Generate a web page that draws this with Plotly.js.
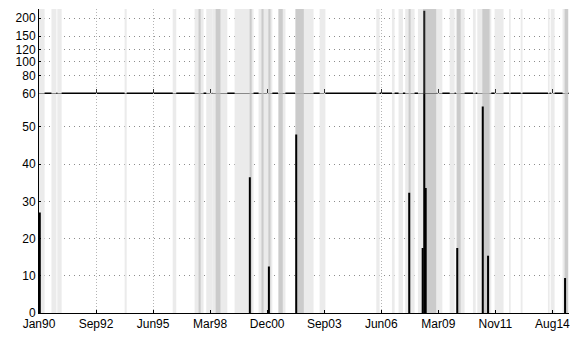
<!DOCTYPE html>
<html><head><meta charset="utf-8">
<script src="https://cdn.plot.ly/plotly-3.0.1.min.js"></script>
<style>html,body{margin:0;padding:0;background:#fff}#chart{width:574px;height:338px}</style>
</head><body><div id="chart"></div>
<script>
// Event spikes (date, value)
const eventDates = ['1990-01-15','2000-02-14','2001-01-13','2002-05-07','2007-10-09','2008-06-01','2008-06-29','2008-07-24','2010-01-28','2011-04-20','2011-07-22','2015-04-02'];
const eventValues = [27, 36.5, 12.5, 48, 32.3, 17.5, 225, 33.6, 17.5, 55.5, 15.4, 9.4];

// Shaded periods, decimal years [start, end]
const lightBands = [[1990.0,1990.27],[1990.60,1990.84],[1990.88,1991.09],[1994.11,1994.21],[1996.42,1996.59],[1997.47,1997.90],[1998.03,1998.32],[1998.32,1999.04],[1999.39,2000.30],[2000.54,2001.20],[2001.47,2001.83],[2002.29,2003.18],[2003.47,2003.75],[2006.19,2006.35],[2006.94,2007.07],[2007.26,2007.47],[2007.58,2008.03],[2008.19,2008.43],[2009.07,2009.36],[2009.71,2009.95],[2010.00,2010.43],[2010.83,2010.96],[2011.04,2011.71],[2011.87,2012.30],[2012.56,2012.64],[2013.12,2013.21],[2014.43,2014.51],[2014.56,2014.75],[2015.13,2015.42]];
const darkBands = [[1997.66,1997.76],[1998.48,1998.71],[2000.11,2000.21],[2000.68,2000.78],[2001.01,2001.11],[2001.50,2001.70],[2002.32,2002.71],[2007.74,2007.84],[2008.43,2009.07],[2010.06,2010.24],[2011.28,2011.63],[2015.23,2015.39]];

// Axis ticks
const xTickDates = ['1990-01-01','1992-09-27','1995-06-24','1998-03-19','2000-12-14','2003-09-10','2006-06-06','2009-03-03','2011-11-27','2014-08-23'];
const xTickLabels = ['Jan90','Sep92','Jun95','Mar98','Dec00','Sep03','Jun06','Mar09','Nov11','Aug14'];
const yLowTicks = [0,10,20,30,40,50];
const yHighTicks = [60,80,100,120,150,200];
const xRange = ['1990-01-01','2015-06-10'];
const yLowRange = [0, 59.06];
const yHighRange = [60, 231];
const split = 0.7227;

function decYear(y){
  const yr = Math.floor(y);
  const a = Date.UTC(yr,0,1), b = Date.UTC(yr+1,0,1);
  return new Date(a + (y-yr)*(b-a)).toISOString().slice(0,10);
}

const LIGHT = '#ebebeb', DARK = '#cbcbcb';
const shapes = [];
function addBands(list, color){
  list.forEach(([s,e]) => {
    shapes.push({type:'rect', layer:'between', xref:'x', yref:'y', x0:decYear(s), x1:decYear(e), y0:yLowRange[0], y1:yLowRange[1], fillcolor:color, line:{width:0}});
    shapes.push({type:'rect', layer:'between', xref:'x2', yref:'y2', x0:decYear(s), x1:decYear(e), y0:yHighRange[0], y1:yHighRange[1], fillcolor:color, line:{width:0}});
  });
}
addBands(lightBands, LIGHT);
addBands(darkBands, DARK);
// break line at 60
shapes.push({type:'line', layer:'below', xref:'paper', yref:'paper', x0:0, x1:1, y0:split, y1:split, line:{color:'#000', width:1.5}});

const barWidth = 35*864e5;
const traces = [
  {type:'bar', x:eventDates, y:eventValues, xaxis:'x', yaxis:'y', width:barWidth, marker:{color:'#000', line:{width:0}}},
  {type:'bar', x:eventDates, y:eventValues, xaxis:'x2', yaxis:'y2', width:barWidth, marker:{color:'#222', line:{width:0}}}
];

const font = {family:'Liberation Sans, Arial, sans-serif', size:12, color:'#000'};
const layout = {
  width:574, height:338,
  margin:{l:39, r:5, t:9, b:25, pad:0},
  paper_bgcolor:'#fff', plot_bgcolor:'rgba(0,0,0,0)',
  showlegend:false, font:font, hovermode:false,
  xaxis:{type:'date', range:xRange, domain:[0,1], anchor:'y', tickmode:'array', tickvals:xTickDates, ticktext:xTickLabels,
    ticks:'inside', ticklen:3, tickcolor:'#000', showline:true, linecolor:'#000', linewidth:1,
    showgrid:true, gridcolor:'#b4b4b4', griddash:'1px,2px', gridwidth:1, zeroline:false, tickfont:font, fixedrange:true},
  xaxis2:{type:'date', matches:'x', range:xRange, domain:[0,1], anchor:'y2', tickmode:'array', tickvals:xTickDates,
    showticklabels:false, ticks:'inside', ticklen:4, tickcolor:'#333', showline:false,
    showgrid:true, gridcolor:'#b4b4b4', griddash:'1px,2px', gridwidth:1, zeroline:false},
  yaxis:{domain:[0,split], range:yLowRange, anchor:'x', tickmode:'array', tickvals:yLowTicks,
    ticks:'inside', ticklen:2, tickcolor:'#000', showline:true, linecolor:'#000', linewidth:1,
    showgrid:true, gridcolor:'#8c8c8c', griddash:'1px,4px', zeroline:false, tickfont:font},
  yaxis2:{domain:[split,1], type:'log', range:[Math.log10(yHighRange[0]), Math.log10(yHighRange[1])], anchor:'x2',
    tickmode:'array', tickvals:yHighTicks, ticktext:yHighTicks.map(String),
    ticks:'inside', ticklen:2, tickcolor:'#000', showline:true, linecolor:'#000', linewidth:1,
    showgrid:true, gridcolor:'#8c8c8c', griddash:'1px,4px', zeroline:false, tickfont:font},
  shapes:shapes
};
Plotly.newPlot('chart', traces, layout, {staticPlot:true, displayModeBar:false});
</script></body></html>
